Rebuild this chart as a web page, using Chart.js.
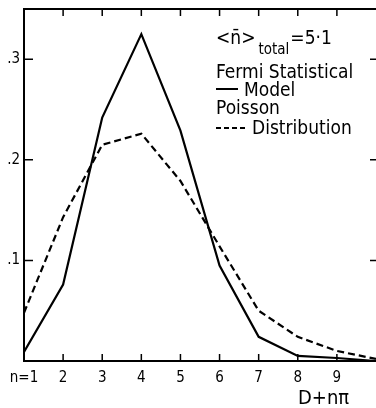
<!DOCTYPE html>
<html>
<head>
<meta charset="utf-8">
<script src="https://cdn.jsdelivr.net/npm/chart.js@4.4.1/dist/chart.umd.min.js"></script>
<style>
    html, body { margin: 0; padding: 0; background: #fff; }
    #contenedor { width: 376px; height: 408px; position: relative; }
</style>
</head>
<body>
<div id="contenedor"><canvas id="grafico"></canvas></div>
<script>
// datos
const multiplicidad = [1, 2, 3, 4, 5, 6, 7, 8, 9, 10];
const fermi = [0.009, 0.076, 0.242, 0.325, 0.229, 0.095, 0.024, 0.005, 0.003, 0.000];
const poisson = [0.048, 0.143, 0.215, 0.226, 0.179, 0.114, 0.050, 0.024, 0.010, 0.002];
const ticksY = [0.1, 0.2, 0.3];
const etiquetasY = [".1", ".2", ".3"];
const etiquetasX = ["n=1", "2", "3", "4", "5", "6", "7", "8", "9", ""];

const fuente = "'DejaVu Sans Condensed', 'DejaVu Sans', sans-serif";

function puntos(valores) {
    return multiplicidad.map((n, i) => ({ x: n, y: valores[i] }));
}

const marco = {
    id: "marco",
    afterDraw(chart) {
        const ctx = chart.ctx;
        const area = chart.chartArea;
        const x = chart.scales.x;
        const y = chart.scales.y;

        ctx.save();
        ctx.strokeStyle = "#000";
        ctx.lineWidth = 2;
        ctx.beginPath();
        ctx.moveTo(area.right, area.top);
        ctx.lineTo(area.left, area.top);
        ctx.lineTo(area.left, area.bottom);
        ctx.lineTo(area.right, area.bottom);
        ctx.stroke();

        // marcas hacia adentro
        ctx.lineWidth = 1.5;
        multiplicidad.slice(1, 9).forEach(n => {
            const px = x.getPixelForValue(n);
            ctx.beginPath();
            ctx.moveTo(px, area.bottom);
            ctx.lineTo(px, area.bottom - 7);
            ctx.moveTo(px, area.top);
            ctx.lineTo(px, area.top + 7);
            ctx.stroke();
        });
        ticksY.forEach(v => {
            const py = y.getPixelForValue(v);
            ctx.beginPath();
            ctx.moveTo(area.left, py);
            ctx.lineTo(area.left + 9, py);
            ctx.moveTo(area.right, py);
            ctx.lineTo(area.right - 6, py);
            ctx.stroke();
        });

        // leyenda
        ctx.fillStyle = "#000";
        ctx.textBaseline = "alphabetic";
        ctx.textAlign = "left";

        let cx = 216;
        ctx.font = "19px " + fuente;
        ctx.fillText("<n\u0304>", cx, 44);
        cx += ctx.measureText("<n\u0304>").width + 3;
        ctx.font = "15px " + fuente;
        ctx.fillText("total", cx, 54);
        cx += ctx.measureText("total").width + 1;
        ctx.font = "19px " + fuente;
        ctx.fillText("=5\u00b71", cx, 44);

        ctx.font = "19px " + fuente;
        ctx.fillText("Fermi Statistical", 216, 78);
        ctx.fillText("Model", 244, 96);
        ctx.fillText("Poisson", 216, 114);
        ctx.fillText("Distribution", 252, 134);

        ctx.lineWidth = 2;
        ctx.beginPath();
        ctx.moveTo(216, 89);
        ctx.lineTo(238, 89);
        ctx.stroke();
        ctx.setLineDash([5, 3]);
        ctx.beginPath();
        ctx.moveTo(216, 128);
        ctx.lineTo(248, 128);
        ctx.stroke();
        ctx.setLineDash([]);

        // titulo del eje x
        ctx.font = "20px " + fuente;
        ctx.fillText("D+n\u03c0", 298, 404);
        ctx.restore();
    }
};

new Chart(document.getElementById("grafico"), {
    type: "line",
    data: {
        datasets: [
            {
                label: "Fermi Statistical Model",
                data: puntos(fermi),
                borderColor: "#000",
                borderWidth: 2.2,
                pointRadius: 0,
                tension: 0
            },
            {
                label: "Poisson Distribution",
                data: puntos(poisson),
                borderColor: "#000",
                borderWidth: 2.2,
                borderDash: [7, 4],
                pointRadius: 0,
                tension: 0
            }
        ]
    },
    options: {
        responsive: true,
        maintainAspectRatio: false,
        animation: false,
        layout: { padding: { top: 8, left: 0, right: 0, bottom: 0 } },
        plugins: {
            legend: { display: false },
            tooltip: { enabled: false }
        },
        scales: {
            x: {
                type: "linear",
                min: 1,
                max: 10,
                afterBuildTicks: scale => {
                    scale.ticks = multiplicidad.map(v => ({ value: v }));
                },
                afterFit: scale => { scale.height = 47; },
                grid: { display: false, drawTicks: true, tickLength: 8 },
                border: { display: false },
                ticks: {
                    padding: 0,
                    maxRotation: 0,
                    autoSkip: false,
                    color: "#000",
                    font: { family: fuente, size: 15 },
                    callback: (valor, i) => etiquetasX[i]
                }
            },
            y: {
                min: 0,
                max: 0.35,
                afterBuildTicks: scale => {
                    scale.ticks = ticksY.map(v => ({ value: v }));
                },
                afterFit: scale => { scale.width = 24; },
                grid: { display: false, drawTicks: true, tickLength: 4 },
                border: { display: false },
                ticks: {
                    padding: 0,
                    color: "#000",
                    font: { family: fuente, size: 15 },
                    callback: (valor, i) => etiquetasY[i]
                }
            }
        }
    },
    plugins: [marco]
});
</script>
</body>
</html>
